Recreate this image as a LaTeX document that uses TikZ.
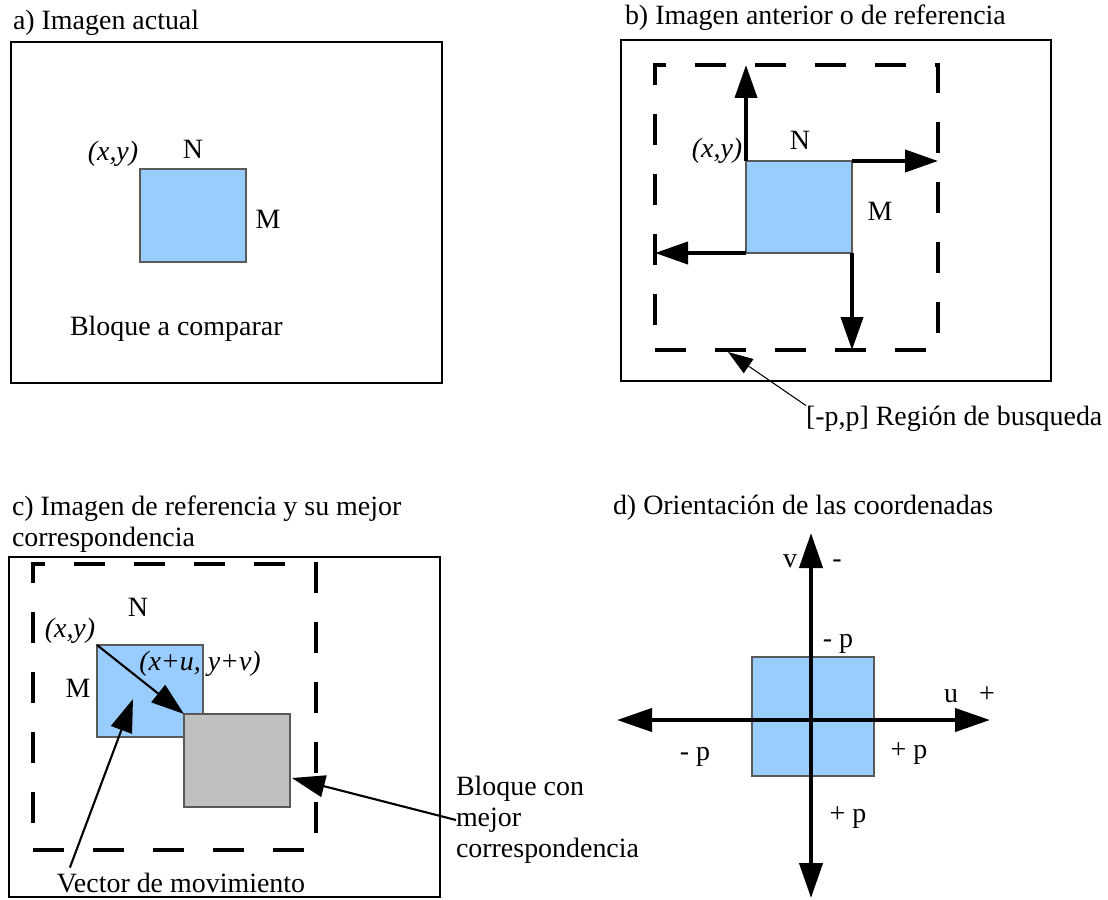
\documentclass[tikz,border=0pt]{standalone}
\usepackage{fontspec}
\setmainfont{Liberation Serif}
\usetikzlibrary{arrows.meta}
\definecolor{blockblue}{HTML}{99CCFF}
\definecolor{blockgray}{HTML}{C0C0C0}
\newcommand{\pxu}{0.02cm}

\begin{document}
\begin{tikzpicture}[x=\pxu, y=-\pxu,
  every node/.style={inner sep=0pt, outer sep=0pt, font=\fontsize{15.9}{17.6}\selectfont},
  rectsize/.style 2 args={draw, minimum width=#1*\pxu, minimum height=#2*\pxu},
  imgframe/.style={line width=1.1pt},
  region/.style={line width=2.3pt, dash pattern=on 0.62cm off 0.58cm},
  block/.style={draw=black!65, line width=0.6pt, fill=blockblue},
  lbl/.style={anchor=base},
  bigarrow/.style={-{Triangle[length=0.66cm, width=0.44cm]}, line width=2.3pt},
  midarrow/.style={-{Triangle[length=0.66cm, width=0.44cm]}, line width=1.2pt},
  smallarrow/.style={-{Triangle[length=0.5cm, width=0.34cm]}, line width=0.6pt},
  axisline/.style={{Triangle[length=0.7cm, width=0.46cm]}-{Triangle[length=0.7cm, width=0.46cm]}, line width=2.4pt}]
  \useasboundingbox (0,0) rectangle (1108,899);

  % a) Imagen actual
  \node[anchor=base west] (titA) at (13,30) {a) Imagen actual};
  \node[rectsize={431}{341}, imgframe] (frmA) at (226.5,212.5) {};
  \node[rectsize={106}{93}, block] (blkA) at (193,215.5) {};
  \node[lbl] (xyA) at (113,160) {\textit{(x,y)}};
  \node[lbl] (nA) at (193,158) {N};
  \node[lbl] (mA) at (268,228) {M};
  \node[anchor=base west] (txtA) at (70,335) {Bloque a comparar};

  % b) Imagen anterior
  \node[anchor=base west] (titB) at (625,24) {b) Imagen anterior o de referencia};
  \node[rectsize={430}{341}, imgframe] (frmB) at (836,210.5) {};
  \node[rectsize={283}{285}, region] (regB) at (796.5,207.5) {};
  \node[rectsize={106}{92}, block] (blkB) at (799,207) {};
  \draw[bigarrow] (blkB.north west) -- (blkB.north west |- regB.north);
  \draw[bigarrow] (blkB.north east) -- (blkB.north east -| regB.east);
  \draw[bigarrow] (blkB.south west) -- (blkB.south west -| regB.west);
  \draw[bigarrow] (blkB.south east) -- (blkB.south east |- regB.south);
  \node[lbl] (xyB) at (717,157) {\textit{(x,y)}};
  \node[lbl] (nB) at (800,149) {N};
  \node[lbl] (mB) at (880,220) {M};
  \node[anchor=base west] (txtB) at (806,425) {[-p,p] Región de busqueda};
  \coordinate (regHit) at (728,352);
  \draw[smallarrow] (txtB.north west) -- (regHit);

  % c) mejor correspondencia
  \node[anchor=base west, align=left] (titC) at (12,546)
    {c) Imagen de referencia y su mejor\\correspondencia};
  \node[rectsize={431}{340}, imgframe] (frmC) at (224.5,727) {};
  \node[rectsize={283}{286}, region] (regC) at (174.5,707) {};
  \node[rectsize={106}{92}, block] (blkC) at (150,691) {};
  \node[rectsize={106}{93}, block, fill=blockgray] (bestC) at (237,760.5) {};
  \draw[midarrow] (blkC.north west) -- (bestC.north west);
  \node[lbl] (nC) at (138,616) {N};
  \node[lbl] (xyC) at (70,637) {\textit{(x,y)}};
  \node[lbl] (mC) at (78,697) {M};
  \node[lbl] (uvC) at (200,670) {\textit{(x+u, y+v)}};
  \node[lbl] (vecTxt) at (181,892) {Vector de movimiento};
  \coordinate (vecStart) at ([shift={(13,-5)}]vecTxt.north west);
  \coordinate (vecHit) at (133,699);
  \draw[midarrow] (vecStart) -- (vecHit);
  \node[anchor=west, align=left] (bestTxt) at (456,820) {Bloque con\\mejor\\correspondencia};
  \coordinate (bestHit) at (292,778);
  \draw[midarrow] (bestTxt.west) -- (bestHit);

  % d) Orientacion
  \node[anchor=base west] (titD) at (613,514) {d) Orientación de las coordenadas};
  \node[rectsize={122}{119}, block] (blkD) at (813,716.5) {};
  \coordinate (axN) at (811,533);
  \coordinate (axS) at (811,898);
  \coordinate (axW) at (617,720);
  \coordinate (axE) at (990,720);
  \draw[axisline] (axW) -- (axE);
  \draw[axisline] (axS) -- (axN);
  \node[lbl] (vD) at (790,567) {v};
  \node[lbl] (vmD) at (837,567) {-};
  \node[lbl] (npD) at (838,647) {- p};
  \node[lbl] (uD) at (951,702) {u};
  \node[lbl] (upD) at (987,702) {+};
  \node[lbl] (wpD) at (695,760) {- p};
  \node[lbl] (epD) at (909,758) {+ p};
  \node[lbl] (spD) at (848,822) {+ p};
\end{tikzpicture}
\end{document}
